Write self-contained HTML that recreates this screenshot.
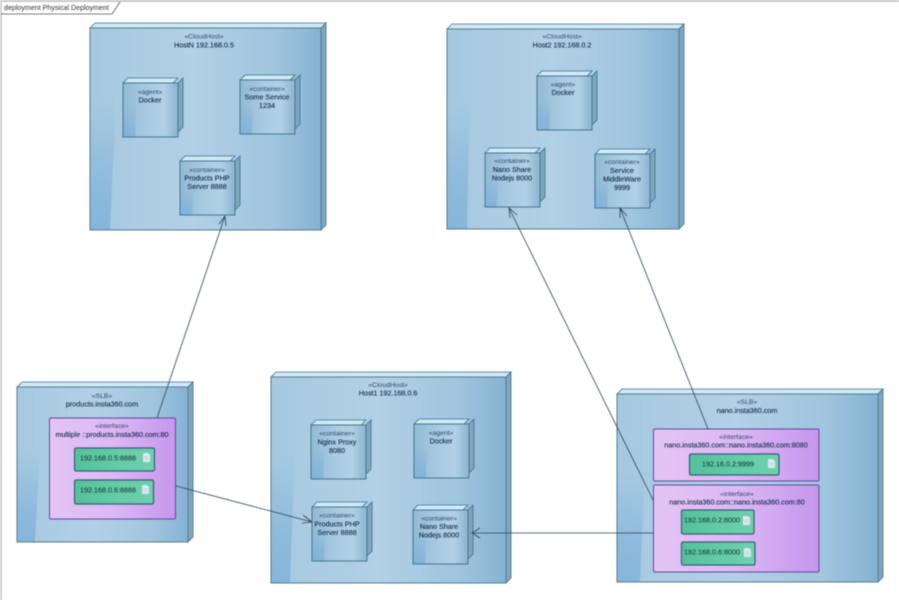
<!DOCTYPE html>
<html><head><meta charset="utf-8"><style>
html,body{margin:0;padding:0;background:#fff;width:899px;height:600px;overflow:hidden}
svg{display:block;filter:blur(.5px)}
text{font-family:"Liberation Sans",sans-serif;font-size:7.200px;fill:#152c4a;stroke:#152c4a;stroke-width:.12;text-anchor:middle}
.st{font-size:6.800px;fill:#2b4a6e;stroke:none}
.t{fill:#cfe9f5;stroke:#3f6f8c;stroke-width:.8}
.s{fill:#7fa6bd;stroke:#3f6f8c;stroke-width:.8}
.f{fill:url(#big);stroke:#567a8f;stroke-width:1}
.fs{fill:url(#small);stroke:#457690;stroke-width:1}
.p{fill:url(#fade)}
.i{fill:url(#pur);stroke:#5a4a96;stroke-width:1}
.a{fill:url(#grn);stroke:#355f78;stroke-width:1.200}
.d{fill:#dfeef2;stroke:#a9cbd0;stroke-width:.5}
.l{fill:none;stroke:#2c4258;stroke-width:.8}
</style></head><body>
<svg width="899" height="600" viewBox="0 0 899 600" xmlns="http://www.w3.org/2000/svg">
<defs>
<linearGradient id="big" x1="0" x2="1" y1="0" y2="0">
<stop offset="0" stop-color="#a6c9e0"/><stop offset=".45" stop-color="#b2d0e6"/><stop offset=".8" stop-color="#a0c5de"/><stop offset="1" stop-color="#85b2d3"/></linearGradient>
<linearGradient id="small" x1="0" x2="1" y1="0" y2="0">
<stop offset="0" stop-color="#93b9d2"/><stop offset=".45" stop-color="#a9cbe2"/><stop offset=".75" stop-color="#b0d0e6"/><stop offset="1" stop-color="#8cb4d0"/></linearGradient>
<linearGradient id="fade" x1="0" x2="0" y1="0" y2="1">
<stop offset="0" stop-color="#7fb2da" stop-opacity="0"/><stop offset=".6" stop-color="#7fb2da" stop-opacity=".6"/><stop offset="1" stop-color="#7fb2da" stop-opacity=".85"/></linearGradient>
<linearGradient id="pur" x1="0" x2="1" y1="0" y2="0">
<stop offset="0" stop-color="#e4c4f6"/><stop offset=".5" stop-color="#dcb8f4"/><stop offset="1" stop-color="#c596ee"/></linearGradient>
<linearGradient id="grn" x1="0" x2="1" y1="0" y2="0">
<stop offset="0" stop-color="#55c09c"/><stop offset=".5" stop-color="#62cba6"/><stop offset="1" stop-color="#6fd0ae"/></linearGradient>
<g id="n">
<path class="t" d="M0 0l5-5h50l-5 5z"/><path class="s" d="M55 0l5-5v49l-5 5z"/>
<rect class="fs" x="0" y="0" width="55" height="54"/>
<path class="p" d="M.5 53.500V24H13L12 53.500z"/>
</g>
<g id="doc"><path class="d" d="M0 0h5l2 2v7h-7z"/><path d="M1.500 3.500h4M1.500 5h4M1.500 6.500h4" stroke="#9fc2c8" stroke-width=".5"/></g>
</defs>

<!-- frame -->
<rect x="0" y="0" width="899" height="2" fill="#c9c9c9"/>
<rect x="0" y="0" width="2" height="600" fill="#d2d2d2"/>
<path d="M1 14H112L120 2" fill="none" stroke="#555" stroke-width=".8"/>
<text x="4" y="10" style="text-anchor:start;fill:#333;stroke:none;font-size:7.100px">deployment Physical Deployment</text>

<!-- HostN -->
<path class="t" d="M90 28l5-5H326l-5 5z"/><path class="s" d="M321 28l5-5V225l-5 5z"/>
<rect class="f" x="90" y="28" width="231" height="202"/>
<path class="p" d="M90.500 229.500V100H116L110 229.500z"/>
<text class="st" x="204" y="38.500">«CloudHost»</text><text x="204" y="47.500">HostN 192.168.0.5</text>
<use href="#n" x="123" y="83"/><text class="st" x="150" y="94">«agent»</text><text x="150" y="102.500">Docker</text>
<use href="#n" x="240" y="80"/><text class="st" x="267" y="91">«container»</text><text x="267" y="99.500">Some Service</text><text x="267" y="108">1234</text>
<use href="#n" x="180" y="161"/><text class="st" x="207" y="172">«container»</text><text x="207" y="180.500">Products PHP</text><text x="207" y="189">Server 8888</text>

<!-- Host2 -->
<path class="t" d="M447 29l5-5H684l-5 5z"/><path class="s" d="M679 29l5-5V224l-5 5z"/>
<rect class="f" x="447" y="29" width="232" height="200"/>
<path class="p" d="M447.500 228.500V100H470L467 228.500z"/>
<text class="st" x="562" y="38.500">«CloudHost»</text><text x="562" y="47.500">Host2 192.168.0.2</text>
<use href="#n" x="537" y="76"/><text class="st" x="563" y="86.500">«agent»</text><text x="563" y="95">Docker</text>
<use href="#n" x="485" y="153"/><text class="st" x="512" y="163">«container»</text><text x="512" y="172">Nano Share</text><text x="512" y="180.500">Nodejs 8000</text>
<use href="#n" x="595" y="154"/><text class="st" x="622" y="164">«container»</text><text x="622" y="173">Service</text><text x="622" y="181.500">MiddleWare</text><text x="622" y="190">9999</text>

<!-- Host1 -->
<path class="t" d="M271 377l5-5H511l-5 5z"/><path class="s" d="M506 377l5-5V578l-5 5z"/>
<rect class="f" x="271" y="377" width="235" height="206"/>
<path class="p" d="M271.500 582.500V450H295L290 582.500z"/>
<text class="st" x="388" y="387">«CloudHost»</text><text x="388" y="395.500">Host1 192.168.0.6</text>
<use href="#n" x="311" y="425"/><text class="st" x="337" y="435.500">«container»</text><text x="337" y="444.500">Nginx Proxy</text><text x="337" y="453">8080</text>
<use href="#n" x="414" y="424"/><text class="st" x="441" y="435">«agent»</text><text x="441" y="443.500">Docker</text>
<use href="#n" x="312" y="507"/><text class="st" x="337" y="517.500">«container»</text><text x="337" y="526.500">Products PHP</text><text x="337" y="535">Server 8888</text>
<use href="#n" x="413" y="510"/><text class="st" x="439" y="520.500">«container»</text><text x="439" y="529">Nano Share</text><text x="439" y="537.500">Nodejs 8000</text>

<!-- SLB products -->
<path class="t" d="M17 387l5-5H193l-5 5z"/><path class="s" d="M188 387l5-5V537l-5 5z"/>
<rect class="f" x="17" y="387" width="171" height="155"/>
<path class="p" d="M17.500 541.500V450H40L35 541.500z"/>
<text class="st" x="102" y="398">«SLB»</text><text x="102" y="406.500">products.insta360.com</text>
<rect class="i" x="49.500" y="418" width="126" height="101" rx="1.500"/>
<text class="st" x="112" y="428">«interface»</text><text x="112" y="437">multiple ::products.insta360.com:80</text>
<rect class="a" x="74.500" y="448" width="80" height="23" rx="1.500"/><text x="108" y="460.500" style="fill:#1c4a44;stroke:#1c4a44">192.168.0.5:8888</text><use href="#doc" x="143" y="453"/>
<rect class="a" x="74.500" y="480" width="79" height="24" rx="1.500"/><text x="108" y="492.500" style="fill:#1c4a44;stroke:#1c4a44">192.168.0.6:8888</text><use href="#doc" x="142" y="485"/>

<!-- SLB nano -->
<path class="t" d="M617 394l5-5H883l-5 5z"/><path class="s" d="M878 394l5-5V577l-5 5z"/>
<rect class="f" x="617" y="394" width="261" height="188"/>
<path class="p" d="M617.500 581.500V470H645L640 581.500z"/>
<text class="st" x="747" y="404">«SLB»</text><text x="747" y="413">nano.insta360.com</text>
<rect class="i" x="653.500" y="429" width="165.500" height="52" rx="1.500"/>
<text class="st" x="736" y="439">«interface»</text><text x="736" y="447.500">nano.insta360.com::nano.insta360.com:8080</text>
<rect class="a" x="689.500" y="454" width="89.500" height="21" rx="1.500"/><text x="728" y="466.500" style="fill:#1c4a44;stroke:#1c4a44">192.16.0.2:9999</text><use href="#doc" x="768" y="459"/>
<rect class="i" x="653.500" y="485" width="165.500" height="87" rx="1.500"/>
<text class="st" x="737" y="496">«interface»</text><text x="737" y="504.500">nano.insta360.com::nano.insta360.com:80</text>
<rect class="a" x="681.500" y="510" width="72.500" height="24" rx="1.500"/><text x="712" y="522.500" style="fill:#1c4a44;stroke:#1c4a44">192.168.0.2:8000</text><use href="#doc" x="743" y="516"/>
<rect class="a" x="681.500" y="542" width="73.500" height="23" rx="1.500"/><text x="712" y="554.500" style="fill:#1c4a44;stroke:#1c4a44">192.168.0.6:8000</text><use href="#doc" x="744" y="548"/>

<!-- connectors -->
<path class="l" d="M157 418L225 216M219 224L225 216L226 226"/>
<path class="l" d="M176 486L312 522M303 515L312 522L302 523"/>
<path class="l" d="M653 533H472M480 528L472 533L480 538"/>
<path class="l" d="M653 500L509 208M510 218L509 208L517 215"/>
<path class="l" d="M708 429L620 208M620 218L620 208L627 216"/>
</svg>
</body></html>
